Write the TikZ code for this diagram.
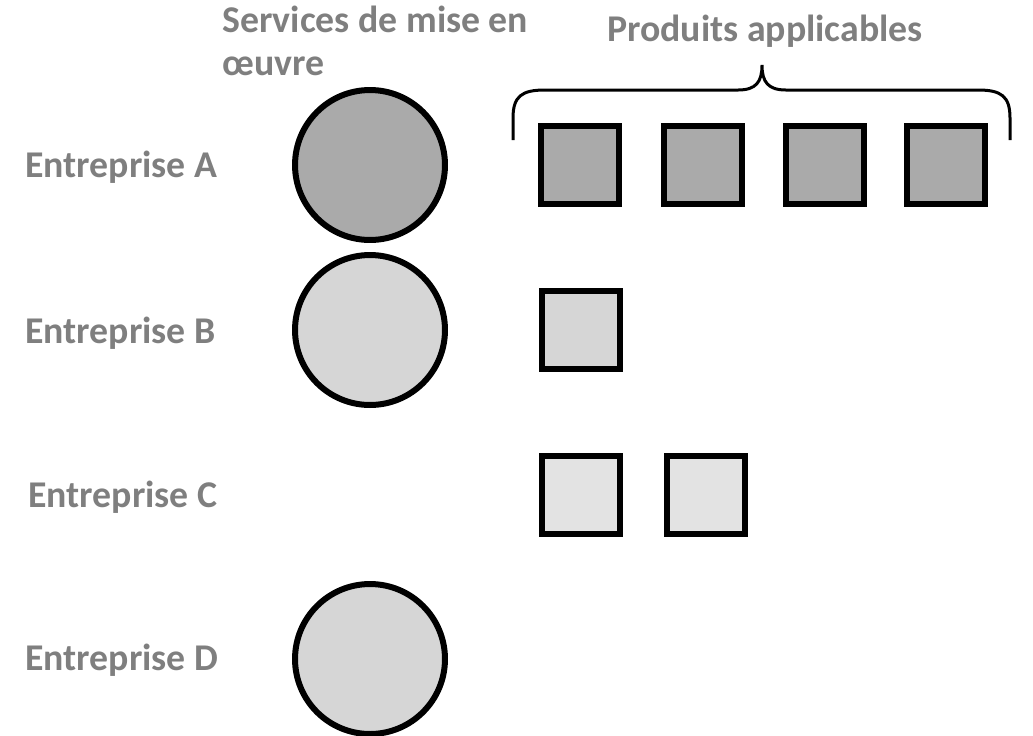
\documentclass[tikz,border=0pt]{standalone}
\usepackage{fontspec}
\setmainfont{Carlito}
\usepackage{tikz}

\definecolor{labelgray}{HTML}{7F7F7F}
\definecolor{darkfill}{HTML}{AAAAAA}
\definecolor{midfill}{HTML}{D6D6D6}
\definecolor{lightfill}{HTML}{E3E3E3}

\begin{document}
\begin{tikzpicture}[x=0.02cm,y=-0.02cm,
    lbl/.style={text=labelgray,font=\fontsize{21.5}{24.4}\selectfont\bfseries,inner sep=0pt},
    serv/.style={shape=circle,draw=black,line width=0.12cm,minimum size=3cm,inner sep=0pt},
    prod/.style={shape=rectangle,draw=black,line width=0.12cm,minimum size=1.56cm,inner sep=0pt}]
    \useasboundingbox (0,0) rectangle (1033,735);

    \node[lbl,anchor=north west,align=left] (title1) at (222,6) {Services de mise en\\œuvre};
    \node[lbl] (title2) at (765,31) {Produits applicables};

    \node[lbl,anchor=west] (ea) at (25,167) {Entreprise A};
    \node[lbl,anchor=west] (eb) at (25,333) {Entreprise B};
    \node[lbl,anchor=west] (ec) at (28,497) {Entreprise C};
    \node[lbl,anchor=west] (ed) at (25,660) {Entreprise D};

    \node[serv,fill=darkfill] (sa) at (370,165) {};
    \node[serv,fill=midfill] (sb) at (370,330) {};
    \node[serv,fill=midfill] (sd) at (370,659) {};

    \foreach \x/\n in {580/1,703/2,825/3,946/4}
        \node[prod,fill=darkfill] (pa\n) at (\x,165) {};
    \node[prod,fill=midfill] (pb1) at (581,330) {};
    \node[prod,fill=lightfill] (pc1) at (581,495) {};
    \node[prod,fill=lightfill] (pc2) at (706,495) {};

    % accolade
    \draw[line width=0.06cm] (513,140) -- (513,118) .. controls (513,96) and (522,90) .. (545,90)
        -- (738,90) .. controls (756,90) and (762,82) .. (762,65)
        .. controls (762,82) and (768,90) .. (786,90) -- (978,90)
        .. controls (1001,90) and (1010,96) .. (1010,118) -- (1010,140);
\end{tikzpicture}
\end{document}
